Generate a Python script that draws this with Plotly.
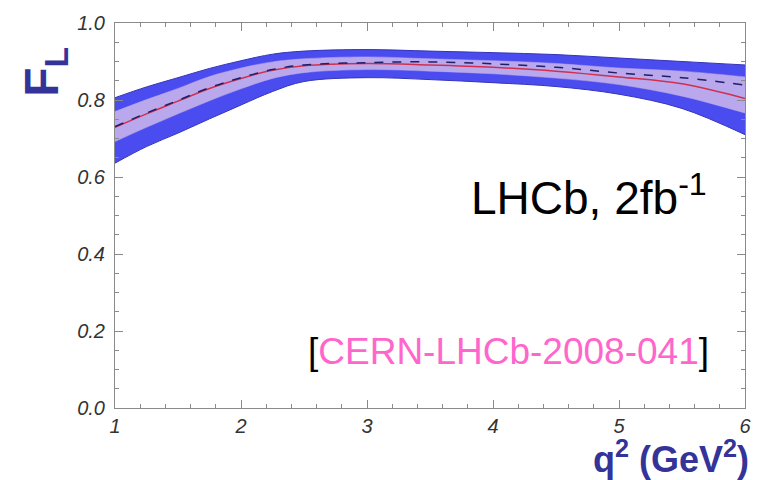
import plotly.graph_objects as go

q2 = [1.0, 1.25, 1.5, 1.75, 2.0, 2.25, 2.5, 3.0, 3.5, 4.0, 4.5, 5.0, 5.5, 6.0]
outer_hi = [0.806, 0.834, 0.858, 0.882, 0.902, 0.919, 0.927, 0.931, 0.927, 0.923, 0.918, 0.909, 0.900, 0.891]
outer_lo = [0.636, 0.679, 0.714, 0.751, 0.787, 0.822, 0.848, 0.858, 0.853, 0.845, 0.835, 0.815, 0.778, 0.710]
inner_hi = [0.770, 0.801, 0.830, 0.861, 0.883, 0.899, 0.907, 0.912, 0.907, 0.902, 0.895, 0.883, 0.875, 0.860]
inner_lo = [0.692, 0.729, 0.764, 0.798, 0.829, 0.856, 0.871, 0.879, 0.875, 0.868, 0.857, 0.840, 0.810, 0.766]
central = [0.729, 0.764, 0.797, 0.830, 0.856, 0.877, 0.889, 0.895, 0.891, 0.885, 0.875, 0.860, 0.842, 0.804]
dashed = [0.731, 0.766, 0.799, 0.832, 0.858, 0.879, 0.891, 0.897, 0.899, 0.894, 0.885, 0.870, 0.858, 0.839]

x_ticks = [1, 2, 3, 4, 5, 6]
y_ticks = [0.0, 0.2, 0.4, 0.6, 0.8, 1.0]

BLUE = "#4b4cf0"
EDGE = "#3434b8"
LAV = "#baa8ec"
RED = "#d0304f"
NAVY = "#1e1e6a"
TITLE = "#33339a"
FONT = "Liberation Sans"

fig = go.Figure()
fig.add_trace(go.Scatter(x=q2, y=outer_lo, mode="lines", line=dict(color=EDGE, width=1, shape="spline"),
                         showlegend=False, hoverinfo="skip"))
fig.add_trace(go.Scatter(x=q2, y=outer_hi, mode="lines", line=dict(color=EDGE, width=1, shape="spline"),
                         fill="tonexty", fillcolor=BLUE, showlegend=False, hoverinfo="skip"))
fig.add_trace(go.Scatter(x=q2, y=inner_lo, mode="lines", line=dict(color=LAV, width=0.5, shape="spline"),
                         showlegend=False, hoverinfo="skip"))
fig.add_trace(go.Scatter(x=q2, y=inner_hi, mode="lines", line=dict(color=LAV, width=0.5, shape="spline"),
                         fill="tonexty", fillcolor=LAV, showlegend=False, hoverinfo="skip"))
fig.add_trace(go.Scatter(x=q2, y=central, mode="lines", line=dict(color=RED, width=1.5, shape="spline"),
                         showlegend=False))
fig.add_trace(go.Scatter(x=q2, y=dashed, mode="lines", line=dict(color=NAVY, width=1.5, dash="dash", shape="spline"),
                         showlegend=False))

axis_common = dict(showline=True, linecolor="#8a8a8a", linewidth=1, mirror="ticks",
                   ticks="inside", tickcolor="#8a8a8a", ticklen=8, tickwidth=1,
                   showgrid=False, zeroline=False,
                   tickfont=dict(family=FONT, size=20, color="#333333", style="italic"))

fig.update_xaxes(range=[1, 6], tickvals=x_ticks, ticktext=[str(v) for v in x_ticks],
                 minor=dict(ticks="inside", dtick=0.2, ticklen=4, tickcolor="#8a8a8a"),
                 ticklabelstandoff=0, **axis_common)
fig.update_yaxes(range=[0, 1], tickvals=y_ticks, ticktext=["%.1f" % v for v in y_ticks],
                 minor=dict(ticks="inside", dtick=0.05, ticklen=4, tickcolor="#8a8a8a"),
                 ticklabelstandoff=5, **axis_common)

W, H = 768, 480
L, R, T, B = 115, 23, 21, 72
pw, ph = W - L - R, H - T - B


def px(x):
    return (x - L) / pw


def py(y):
    return (H - B - y) / ph


annotations = [
    dict(text="<b>F<sub>L</sub></b>", x=px(45), y=py(70), textangle=-90,
         font=dict(family=FONT, size=48, color=TITLE)),
    dict(text="<b>q<sup>2</sup> (GeV<sup>2</sup>)</b>", x=px(671), y=py(457),
         font=dict(family=FONT, size=36, color=TITLE)),
    dict(text="LHCb, 2fb<sup>-1</sup>", x=px(470), y=py(194), xanchor="left",
         font=dict(family=FONT, size=46, color="black")),
    dict(text="[<span style='color:#ff66cc'>CERN-LHCb-2008-041</span>]", x=px(307), y=py(351),
         xanchor="left", font=dict(family=FONT, size=37, color="black")),
]
for a in annotations:
    a.setdefault("xanchor", "center")
    a.setdefault("yanchor", "middle")
    a.update(xref="paper", yref="paper", showarrow=False, borderpad=0)

fig.update_layout(width=W, height=H, margin=dict(l=L, r=R, t=T, b=B),
                  paper_bgcolor="white", plot_bgcolor="white",
                  annotations=annotations)

fig.write_html("out.html")
